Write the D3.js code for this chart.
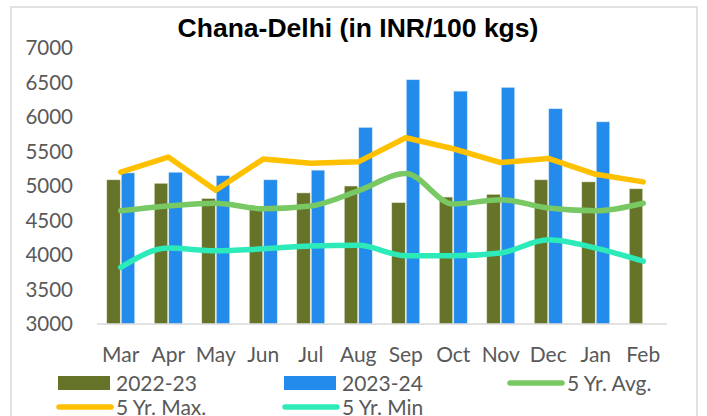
<!DOCTYPE html>
<html>
<head>
<meta charset="utf-8">
<script src="https://cdn.jsdelivr.net/npm/d3@7"></script>
<style>
  body { margin: 0; background: #fff; }
  svg { display: block; }
</style>
</head>
<body>
<div id="chart"></div>
<script>
const months = ["Mar", "Apr", "May", "Jun", "Jul", "Aug", "Sep", "Oct", "Nov", "Dec", "Jan", "Feb"];
const y2223 = [5090, 5040, 4820, 4670, 4900, 5000, 4760, 4840, 4880, 5090, 5060, 4960];
const y2324 = [5190, 5200, 5150, 5090, 5230, 5850, 6540, 6375, 6430, 6120, 5930, null];
const avg5 = [4640, 4710, 4750, 4670, 4710, 4930, 5180, 4740, 4800, 4680, 4640, 4750];
const max5 = [5200, 5420, 4940, 5390, 5330, 5350, 5700, 5540, 5340, 5400, 5170, 5060];
const min5 = [3820, 4100, 4060, 4090, 4130, 4140, 3990, 3990, 4030, 4220, 4100, 3910];
const yTicks = [3000, 3500, 4000, 4500, 5000, 5500, 6000, 6500, 7000];

const W = 707, H = 416;
const svg = d3.select("#chart").append("svg")
    .attr("width", W)
    .attr("height", H);

// chart frame
svg.append("rect")
    .attr("x", 11).attr("y", 7)
    .attr("width", 686).attr("height", 420)
    .attr("fill", "#fff")
    .attr("stroke", "#d9d9d9")
    .attr("stroke-width", 1.5);

svg.append("text")
    .attr("x", 358).attr("y", 37)
    .attr("text-anchor", "middle")
    .style("font-family", "Liberation Sans, Arial, sans-serif")
    .style("font-weight", "bold")
    .style("font-size", "26.5px")
    .text("Chana-Delhi (in INR/100 kgs)");

const x = d3.scaleBand().domain(months).range([97, 667]);
const y = d3.scaleLinear().domain([3000, 7000]).range([324, 48]);
const barW = 13.5;

// y tick labels
svg.selectAll(".ytick")
    .data(yTicks)
    .enter()
    .append("text")
    .attr("x", 73)
    .attr("y", d => y(d))
    .attr("dy", "0.36em")
    .attr("text-anchor", "end")
    .style("font-family", "Lato, sans-serif")
    .style("font-size", "20.5px")
    .attr("fill", "#595959")
    .text(d => d);

// bars
const cx = m => x(m) + x.bandwidth() / 2;

svg.selectAll(".b1")
    .data(months.map((m, i) => ({ m, v: y2223[i] })).filter(d => d.v != null))
    .enter()
    .append("rect")
    .attr("x", d => cx(d.m) - barW - 0.5)
    .attr("y", d => y(d.v))
    .attr("width", barW)
    .attr("height", d => y(3000) - y(d.v))
    .attr("fill", "#667429")
    .attr("stroke", "#e8ecd8")
    .attr("stroke-width", 0.6);

svg.selectAll(".b2")
    .data(months.map((m, i) => ({ m, v: y2324[i] })).filter(d => d.v != null))
    .enter()
    .append("rect")
    .attr("x", d => cx(d.m) + 0.5)
    .attr("y", d => y(d.v))
    .attr("width", barW)
    .attr("height", d => y(3000) - y(d.v))
    .attr("fill", "#228beb")
    .attr("stroke", "#d6e8fb")
    .attr("stroke-width", 0.6);

// axis line
svg.append("line")
    .attr("x1", 97).attr("x2", 667)
    .attr("y1", 324).attr("y2", 324)
    .attr("stroke", "#d9d9d9")
    .attr("stroke-width", 1.5);

// x labels
svg.selectAll(".xlab")
    .data(months)
    .enter()
    .append("text")
    .attr("x", d => cx(d))
    .attr("y", 362)
    .attr("text-anchor", "middle")
    .style("font-family", "Lato, sans-serif")
    .style("font-size", "21px")
    .attr("fill", "#595959")
    .text(d => d);

// lines
const series = [
    { vals: avg5, color: "#78c864", curve: d3.curveMonotoneX },
    { vals: max5, color: "#ffc000", curve: d3.curveLinear },
    { vals: min5, color: "#2debb9", curve: d3.curveMonotoneX }
];

series.forEach(s => {
    const line = d3.line()
        .x((d, i) => cx(months[i]))
        .y(d => y(d))
        .curve(s.curve);
    svg.append("path")
        .attr("d", line(s.vals))
        .attr("fill", "none")
        .attr("stroke", s.color)
        .attr("stroke-width", 5.5)
        .attr("stroke-linecap", "round")
        .attr("stroke-linejoin", "round");
});

// legend
const legend = [
    { name: "2022-23", type: "rect", color: "#667429", x: 58, y: 383 },
    { name: "2023-24", type: "rect", color: "#228beb", x: 284, y: 383 },
    { name: "5 Yr. Avg.", type: "line", color: "#78c864", x: 509, y: 383 },
    { name: "5 Yr. Max.", type: "line", color: "#ffc000", x: 58, y: 407 },
    { name: "5 Yr. Min", type: "line", color: "#2debb9", x: 284, y: 407 }
];

legend.forEach(l => {
    if (l.type == "rect") {
        svg.append("rect")
            .attr("x", l.x).attr("y", l.y - 7)
            .attr("width", 52).attr("height", 14)
            .attr("fill", l.color);
    } else {
        svg.append("line")
            .attr("x1", l.x + 1).attr("x2", l.x + 53)
            .attr("y1", l.y).attr("y2", l.y)
            .attr("stroke", l.color)
            .attr("stroke-width", 5.5)
            .attr("stroke-linecap", "round");
    }
    svg.append("text")
        .attr("x", l.x + 58)
        .attr("y", l.y)
        .attr("dy", "0.36em")
        .style("font-family", "Lato, sans-serif")
        .style("font-size", "21px")
        .attr("fill", "#595959")
        .text(l.name);
});
</script>
</body>
</html>
